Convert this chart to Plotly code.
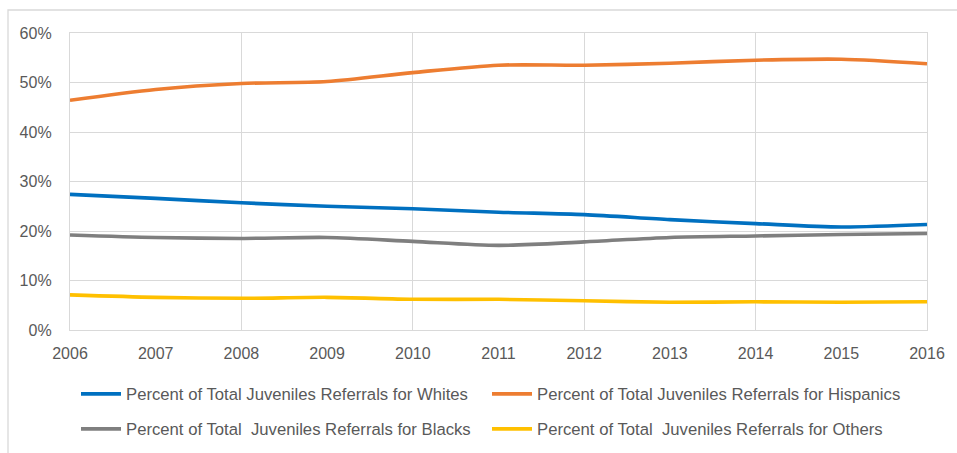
import plotly.graph_objects as go

years = [2006, 2007, 2008, 2009, 2010, 2011, 2012, 2013, 2014, 2015, 2016]
whites = [0.274, 0.266, 0.257, 0.250, 0.245, 0.238, 0.233, 0.223, 0.215, 0.208, 0.213]
hispanics = [0.464, 0.486, 0.498, 0.502, 0.520, 0.535, 0.535, 0.539, 0.545, 0.547, 0.538]
blacks = [0.192, 0.187, 0.185, 0.187, 0.179, 0.171, 0.178, 0.187, 0.190, 0.193, 0.195]
others = [0.071, 0.066, 0.064, 0.066, 0.062, 0.062, 0.059, 0.056, 0.057, 0.056, 0.057]

names = [
    "Percent of Total Juveniles Referrals for Whites",
    "Percent of Total Juveniles Referrals for Hispanics",
    "Percent of Total\u00a0 Juveniles Referrals for Blacks",
    "Percent of Total\u00a0 Juveniles Referrals for Others",
]
colors = ["#0070C0", "#ED7D31", "#7F7F7F", "#FFC000"]
series = [whites, hispanics, blacks, others]
legends = ["legend", "legend2", "legend3", "legend4"]

W, H = 957, 453
ML, MR, MT, MB = 70, 30, 33, 123
pw = W - ML - MR
ph = H - MT - MB

fig = go.Figure()
for name, col, vals, lg in zip(names, colors, series, legends):
    fig.add_trace(go.Scatter(
        x=years, y=vals, name=name, mode="lines",
        line=dict(color=col, width=3.6, shape="spline", smoothing=0.8),
        legend=lg,
    ))

TXT = "#595959"
GRID = "#D9D9D9"
FONT = "Liberation Sans, Arial, sans-serif"


def leg(xpx, ypx):
    return dict(orientation="h", xref="container", yref="container",
                x=xpx / W, y=1 - ypx / H, yanchor="middle", xanchor="left",
                itemwidth=40, font=dict(size=16.7, color=TXT),
                bgcolor="rgba(0,0,0,0)")


fig.update_layout(
    width=W, height=H,
    margin=dict(l=ML, r=MR, t=MT, b=MB, autoexpand=False),
    paper_bgcolor="white", plot_bgcolor="white",
    font=dict(family=FONT, color=TXT, size=16),
    xaxis=dict(range=[2006, 2016], tick0=2006, dtick=2, showgrid=True,
               gridcolor=GRID, gridwidth=1.3, showticklabels=False,
               zeroline=False, showline=True, linecolor=GRID, linewidth=1.3,
               mirror=True, automargin=False),
    xaxis2=dict(range=[2006, 2016], tick0=2006, dtick=1, overlaying="x",
                side="bottom", showgrid=False, zeroline=False,
                showticklabels=True, tickfont=dict(size=16, color=TXT),
                ticklabelstandoff=12, automargin=False),
    yaxis=dict(range=[0, 0.6], dtick=0.1, tickformat=".0%", showgrid=True,
               gridcolor=GRID, gridwidth=1.3, zeroline=False,
               tickfont=dict(size=16, color=TXT), ticklabelstandoff=14,
               showline=True, linecolor=GRID, linewidth=1.3, mirror=True,
               automargin=False),
    legend=leg(76, 394),
    legend2=leg(487, 394),
    legend3=leg(76, 429),
    legend4=leg(487, 429),
    showlegend=True,
)

# invisible helper trace to activate xaxis2 tick labels
fig.add_trace(go.Scatter(x=[2006, 2016], y=[None, None], xaxis="x2",
                         showlegend=False, hoverinfo="skip", mode="lines"))

# outer chart-area border (Excel chart frame, cropped at right/bottom)
fig.add_shape(type="rect", xref="paper", yref="paper",
              x0=(8 - ML) / pw, x1=(W + 20 - ML) / pw,
              y0=-(H + 20 - MT - ph) / ph, y1=(H - MB - 10) / ph,
              line=dict(color=GRID, width=1.3), layer="below")

fig.write_html("out.html",
               config={"displayModeBar": False},
               post_script="document.body.style.margin='0';"
                           "document.body.style.overflow='hidden';")
